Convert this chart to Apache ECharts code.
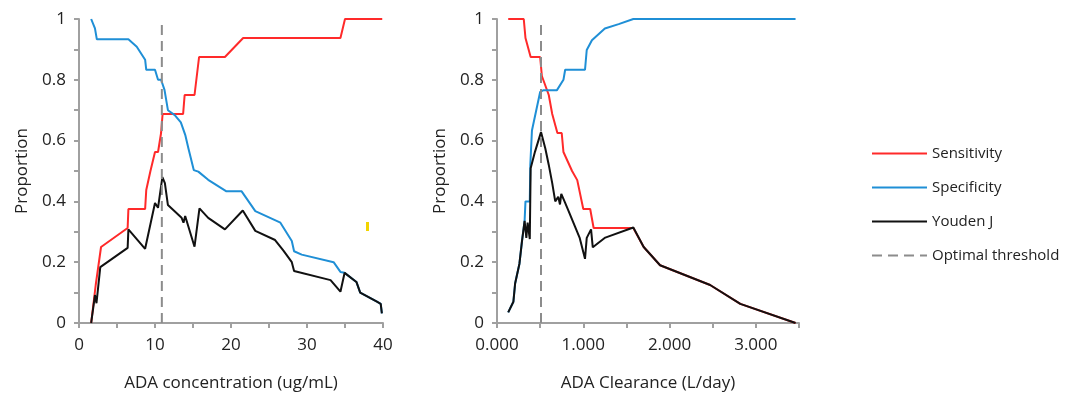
<!DOCTYPE html>
<html>
<head>
<meta charset="utf-8">
<script src="https://cdn.jsdelivr.net/npm/echarts@6/dist/echarts.min.js"></script>
<style>
html,body{margin:0;padding:0;background:#fff;}
#chart{width:1073px;height:397px;}
</style>
</head>
<body>
<div id="chart"></div>
<script>
// ---- Data ----
const seriesNames = ['Sensitivity', 'Specificity', 'Youden J', 'Optimal threshold'];

// Left panel: ADA concentration (ug/mL)
const leftSens = [[1.6,0],[2.2,0.125],[2.9,0.25],[6.4,0.3125],[6.5,0.375],[8.7,0.375],[8.85,0.4375],[9.4,0.5],[10.0,0.5625],[10.4,0.5625],[10.8,0.625],[11.0,0.6875],[13.7,0.6875],[13.9,0.75],[15.2,0.75],[15.8,0.875],[19.2,0.875],[21.6,0.9375],[34.4,0.9375],[35.0,1],[39.9,1]];
const leftSpec = [[1.6,1],[2.1,0.969],[2.35,0.933],[6.5,0.933],[7.6,0.909],[8.7,0.866],[8.85,0.833],[10.0,0.833],[10.4,0.8],[10.8,0.8],[11.25,0.767],[11.7,0.7],[12.6,0.684],[13.4,0.66],[14.0,0.617],[14.4,0.574],[15.1,0.503],[15.7,0.498],[17.0,0.471],[19.4,0.433],[21.4,0.433],[23.2,0.368],[26.5,0.33],[28.0,0.27],[28.3,0.236],[29.3,0.225],[33.5,0.2],[34.4,0.168],[34.95,0.165],[36.5,0.135],[37.0,0.1],[39.2,0.07],[39.7,0.063],[39.85,0.032]];
const leftJ = [[1.6,0],[2.1,0.092],[2.3,0.065],[2.8,0.184],[6.4,0.247],[6.5,0.308],[8.7,0.244],[10.0,0.395],[10.4,0.379],[10.97,0.48],[11.3,0.46],[11.7,0.388],[13.5,0.346],[13.75,0.33],[13.97,0.352],[15.2,0.251],[15.85,0.377],[17.0,0.346],[19.2,0.308],[21.55,0.37],[23.2,0.303],[25.8,0.273],[26.9,0.238],[28.0,0.2],[28.3,0.171],[33.1,0.141],[34.4,0.103],[34.95,0.165],[36.5,0.135],[37.0,0.1],[39.2,0.07],[39.7,0.063],[39.85,0.032]];
const leftThreshold = [[10.9,0],[10.9,1]];

// Right panel: ADA Clearance (L/day)
const rightSens = [[0.13,1],[0.31,1],[0.33,0.9375],[0.39,0.875],[0.5,0.875],[0.52,0.8125],[0.6,0.75],[0.64,0.6875],[0.7,0.625],[0.75,0.625],[0.77,0.5625],[0.87,0.5],[0.93,0.47],[1.0,0.375],[1.08,0.375],[1.12,0.3125],[1.58,0.3125],[1.7,0.25],[1.89,0.19],[2.47,0.125],[2.82,0.063],[3.46,0]];
const rightSpec = [[0.13,0.035],[0.19,0.07],[0.21,0.13],[0.26,0.195],[0.29,0.27],[0.32,0.336],[0.33,0.4],[0.38,0.4],[0.386,0.52],[0.405,0.633],[0.5,0.76],[0.54,0.766],[0.695,0.766],[0.77,0.8],[0.79,0.833],[1.02,0.833],[1.04,0.898],[1.1,0.93],[1.25,0.969],[1.41,0.983],[1.58,1],[3.46,1]];
const rightJ = [[0.13,0.035],[0.19,0.07],[0.21,0.13],[0.26,0.195],[0.29,0.27],[0.32,0.336],[0.34,0.28],[0.355,0.33],[0.38,0.276],[0.39,0.509],[0.44,0.563],[0.51,0.628],[0.56,0.574],[0.6,0.52],[0.64,0.46],[0.675,0.4],[0.71,0.415],[0.73,0.39],[0.745,0.425],[0.79,0.395],[0.83,0.368],[0.957,0.281],[1.02,0.211],[1.04,0.28],[1.09,0.308],[1.11,0.249],[1.255,0.281],[1.58,0.314],[1.7,0.25],[1.89,0.19],[2.47,0.125],[2.82,0.063],[3.46,0]];
const rightThreshold = [[0.51,0],[0.51,1]];

const xNames = ['ADA concentration (ug/mL)', 'ADA Clearance (L/day)'];
const yName = 'Proportion';

// ---- Styles ----
const FONT = 'Open Sans';
const axisGray = '#a0a0a0';
const textColor = '#222';
const colors = { sens: '#ff2a2a', spec: '#1f8fd6', j: '#111111', thr: '#8c8c8c' };

function yAxis(gridIndex) {
  return {
    type: 'value', gridIndex, min: 0, max: 1, interval: 0.1,
    name: yName, nameLocation: 'middle', nameGap: 48,
    nameTextStyle: { fontFamily: FONT, fontSize: 17, color: textColor },
    axisLine: { show: true, lineStyle: { color: axisGray, width: 2 } },
    axisTick: { show: true, length: 5, lineStyle: { color: axisGray, width: 2 } },
    splitLine: { show: false },
    axisLabel: {
      fontFamily: FONT, fontSize: 17, color: textColor, margin: 13,
      formatter: v => (Math.round(v * 10) % 2 === 0 ? String(Math.round(v * 10) / 10) : '')
    }
  };
}
function xAxis(gridIndex, max, interval, fmt, name) {
  return {
    type: 'value', gridIndex, min: 0, max, interval,
    name, nameLocation: 'middle', nameGap: 52,
    nameTextStyle: { fontFamily: FONT, fontSize: 17, color: textColor },
    axisLine: { show: true, onZero: false, lineStyle: { color: axisGray, width: 2 } },
    axisTick: { show: true, length: 5, lineStyle: { color: axisGray, width: 2 } },
    splitLine: { show: false },
    axisLabel: { fontFamily: FONT, fontSize: 17, color: textColor, margin: 14, formatter: fmt }
  };
}
function line(name, data, idx, color, width, type) {
  return {
    name, type: 'line', data, xAxisIndex: idx, yAxisIndex: idx,
    symbol: 'none', showSymbol: false, silent: true,
    lineStyle: { color, width, type: type || 'solid' },
    itemStyle: { color }
  };
}

const chart = echarts.init(document.getElementById('chart'), null, { renderer: 'canvas' });
chart.setOption({
  animation: false,
  backgroundColor: '#fff',
  grid: [
    { left: 79, top: 19, width: 304, height: 308 },
    { left: 497, top: 19, width: 302, height: 308 }
  ],
  xAxis: [
    xAxis(0, 40, 5, v => (v % 10 === 0 ? String(v) : ''), xNames[0]),
    xAxis(1, 3.5, 0.5, v => (Math.abs(v - Math.round(v)) < 1e-9 ? v.toFixed(3) : ''), xNames[1])
  ],
  yAxis: [yAxis(0), yAxis(1)],
  legend: {
    orient: 'vertical', left: 866, top: 141,
    itemWidth: 55, itemHeight: 14, itemGap: 19,
    data: seriesNames,
    itemStyle: { opacity: 0 },
    textStyle: { fontFamily: FONT, fontSize: 15, color: textColor },
    selectedMode: false
  },
  series: [
    line(seriesNames[0], leftSens, 0, colors.sens, 2),
    line(seriesNames[1], leftSpec, 0, colors.spec, 2),
    line(seriesNames[2], leftJ, 0, colors.j, 2),
    line(seriesNames[3], leftThreshold, 0, colors.thr, 2, [10, 6]),
    line(seriesNames[0], rightSens, 1, colors.sens, 2),
    line(seriesNames[1], rightSpec, 1, colors.spec, 2),
    line(seriesNames[2], rightJ, 1, colors.j, 2),
    line(seriesNames[3], rightThreshold, 1, colors.thr, 2, [10, 6])
  ],
  graphic: [
    { type: 'rect', left: 366, top: 222, shape: { width: 3, height: 9 }, style: { fill: '#f2d400' }, silent: true }
  ]
});
</script>
</body>
</html>
